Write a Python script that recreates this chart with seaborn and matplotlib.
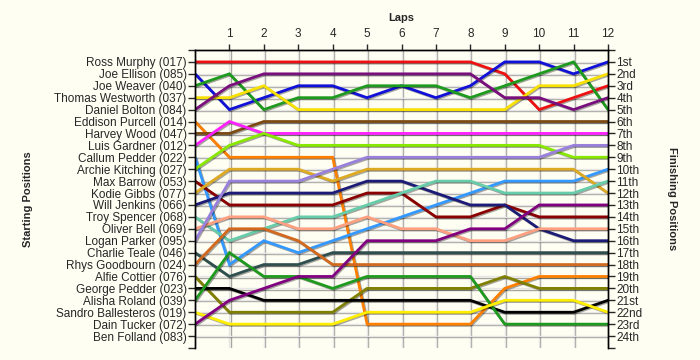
import matplotlib
matplotlib.use("Agg")
import matplotlib.pyplot as plt
import matplotlib.patheffects as pe
import seaborn as sns
import pandas as pd

# Posições por volta (volta 0 = largada)
laps = list(range(0, 13))

drivers = [
    "Ross Murphy (017)", "Joe Ellison (085)", "Joe Weaver (040)", "Thomas Westworth (037)",
    "Daniel Bolton (084)", "Eddison Purcell (014)", "Harvey Wood (047)", "Luis Gardner (012)",
    "Callum Pedder (022)", "Archie Kitching (027)", "Max Barrow (053)", "Kodie Gibbs (077)",
    "Will Jenkins (066)", "Troy Spencer (068)", "Oliver Bell (069)", "Logan Parker (095)",
    "Charlie Teale (046)", "Rhys Goodbourn (024)", "Alfie Cottier (076)", "George Pedder (023)",
    "Alisha Roland (039)", "Sandro Ballesteros (019)", "Dain Tucker (072)", "Ben Folland (083)",
]

finish_labels = ["1st", "2nd", "3rd", "4th", "5th", "6th", "7th", "8th", "9th", "10th",
                 "11th", "12th", "13th", "14th", "15th", "16th", "17th", "18th", "19th",
                 "20th", "21st", "22nd", "23rd", "24th"]

positions = {
    "Ross Murphy (017)":        [1, 1, 1, 1, 1, 1, 1, 1, 1, 2, 5, 4, 3],
    "Joe Ellison (085)":        [2, 5, 4, 3, 3, 4, 3, 4, 3, 1, 1, 2, 1],
    "Joe Weaver (040)":         [3, 2, 5, 4, 4, 3, 3, 3, 4, 3, 2, 1, 5],
    "Thomas Westworth (037)":   [4, 4, 3, 5, 5, 5, 5, 5, 5, 5, 3, 3, 2],
    "Daniel Bolton (084)":      [5, 3, 2, 2, 2, 2, 2, 2, 2, 4, 4, 5, 4],
    "Eddison Purcell (014)":    [6, 9, 9, 9, 9, 23, 23, 23, 23, 20, 19, 19, 19],
    "Harvey Wood (047)":        [7, 7, 6, 6, 6, 6, 6, 6, 6, 6, 6, 6, 6],
    "Luis Gardner (012)":       [8, 6, 7, 7, 7, 7, 7, 7, 7, 7, 7, 7, 7],
    "Callum Pedder (022)":      [9, 18, 16, 17, 16, 15, 14, 13, 12, 11, 11, 11, 10],
    "Archie Kitching (027)":    [10, 8, 7, 8, 8, 8, 8, 8, 8, 8, 8, 9, 9],
    "Max Barrow (053)":         [11, 13, 13, 13, 13, 12, 12, 14, 14, 13, 14, 14, 14],
    "Kodie Gibbs (077)":        [12, 10, 10, 10, 11, 10, 10, 10, 10, 10, 10, 10, 12],
    "Will Jenkins (066)":       [13, 12, 12, 12, 12, 11, 11, 12, 13, 13, 15, 16, 16],
    "Troy Spencer (068)":       [14, 16, 15, 14, 14, 13, 12, 11, 11, 12, 12, 12, 11],
    "Oliver Bell (069)":        [15, 14, 14, 15, 15, 14, 15, 15, 16, 16, 15, 15, 15],
    "Logan Parker (095)":       [16, 11, 11, 11, 10, 9, 9, 9, 9, 9, 9, 8, 8],
    "Charlie Teale (046)":      [17, 19, 18, 18, 17, 17, 17, 17, 17, 17, 17, 17, 17],
    "Rhys Goodbourn (024)":     [18, 15, 15, 16, 18, 18, 18, 18, 18, 18, 18, 18, 18],
    "Alfie Cottier (076)":      [19, 22, 22, 22, 22, 20, 20, 20, 20, 19, 20, 20, 20],
    "George Pedder (023)":      [20, 20, 21, 21, 21, 21, 21, 21, 21, 22, 22, 22, 21],
    "Alisha Roland (039)":      [21, 17, 19, 19, 20, 19, 19, 19, 19, 23, 23, 23, 23],
    "Sandro Ballesteros (019)": [22, 23, 23, 23, 23, 22, 22, 22, 22, 21, 21, 21, 22],
    "Dain Tucker (072)":        [23, 21, 20, 19, 19, 16, 16, 16, 15, 15, 13, 13, 13],
}

colors = {
    "Ross Murphy (017)": "#ee1111",
    "Joe Ellison (085)": "#1010d8",
    "Joe Weaver (040)": "#1e9a1e",
    "Thomas Westworth (037)": "#f8e000",
    "Daniel Bolton (084)": "#7a107e",
    "Eddison Purcell (014)": "#ff8000",
    "Harvey Wood (047)": "#7b4a12",
    "Luis Gardner (012)": "#ff20ff",
    "Callum Pedder (022)": "#3399ff",
    "Archie Kitching (027)": "#88e800",
    "Max Barrow (053)": "#8b0000",
    "Kodie Gibbs (077)": "#ddaa22",
    "Will Jenkins (066)": "#1c1c78",
    "Troy Spencer (068)": "#66ccaa",
    "Oliver Bell (069)": "#ffa080",
    "Logan Parker (095)": "#9a80dd",
    "Charlie Teale (046)": "#2f4f4f",
    "Rhys Goodbourn (024)": "#d2691e",
    "Alfie Cottier (076)": "#808000",
    "George Pedder (023)": "#000000",
    "Alisha Roland (039)": "#1e9a1e",
    "Sandro Ballesteros (019)": "#ffee00",
    "Dain Tucker (072)": "#800080",
}

rows = []
for name, pos in positions.items():
    for lap, p in zip(laps, pos):
        rows.append({"Piloto": name, "Volta": lap, "Posicao": p})
df = pd.DataFrame(rows)

bg = "#fffef3"
sns.set_style("white")
plt.rcParams["font.family"] = ["Liberation Sans", "DejaVu Sans"]

fig = plt.figure(figsize=(7, 3.6), dpi=100, facecolor=bg)
ax = fig.add_axes([195 / 700, 12 / 360, 413 / 700, 298 / 360])
ax.set_facecolor(bg)

# grade leve
for x in range(1, 12):
    ax.axvline(x, color="#e6e6e6", lw=1, zorder=0)
for y in range(1, 25):
    ax.axhline(y, color="#e6e6e6", lw=1, zorder=0)

sns.lineplot(
    data=df, x="Volta", y="Posicao", hue="Piloto", palette=colors,
    hue_order=list(positions.keys()), estimator=None, sort=False,
    linewidth=2, legend=False, ax=ax,
)
for line in ax.get_lines():
    line.set_path_effects([pe.SimpleLineShadow(offset=(0.8, -0.8), alpha=0.35), pe.Normal()])
    line.set_solid_joinstyle("miter")

ax.set_xlim(0, 12)
ax.set_ylim(25, 0)

ax.xaxis.tick_top()
ax.set_xticks(range(1, 13))
ax.set_xticklabels([str(i) for i in range(1, 13)], fontsize=8.5)
ax.set_xlabel("")
ax.set_ylabel("")

ax.set_yticks(range(0, 26))
ax.set_yticklabels([""] + drivers + [""], fontsize=8.5)
ax.tick_params(axis="y", direction="out", length=5, width=1, pad=1, left=True)
ax.tick_params(axis="x", direction="out", length=4, width=1, pad=3, top=True)

ax2 = ax.twinx()
ax2.set_ylim(25, 0)
ax2.set_yticks(range(0, 26))
ax2.set_yticklabels([""] + finish_labels + [""], fontsize=8.5)
ax2.tick_params(axis="y", direction="out", length=5, width=1, pad=1, right=True)

for a in (ax, ax2):
    a.spines["bottom"].set_visible(False)
    for s in ("top", "left", "right"):
        a.spines[s].set_color("black")
        a.spines[s].set_linewidth(1)

# títulos dos eixos
fig.text(401 / 700, 1 - 18 / 360, "Laps", ha="center", va="center",
         fontsize=8, fontweight="bold")
fig.text(28 / 700, 1 - 199 / 360, "Starting Positions", ha="center", va="center",
         rotation=90, fontsize=8, fontweight="bold")
fig.text(672 / 700, 1 - 199 / 360, "Finishing Positions", ha="center", va="center",
         rotation=270, fontsize=8, fontweight="bold")

fig.savefig("out.png", dpi=100, facecolor=bg)
